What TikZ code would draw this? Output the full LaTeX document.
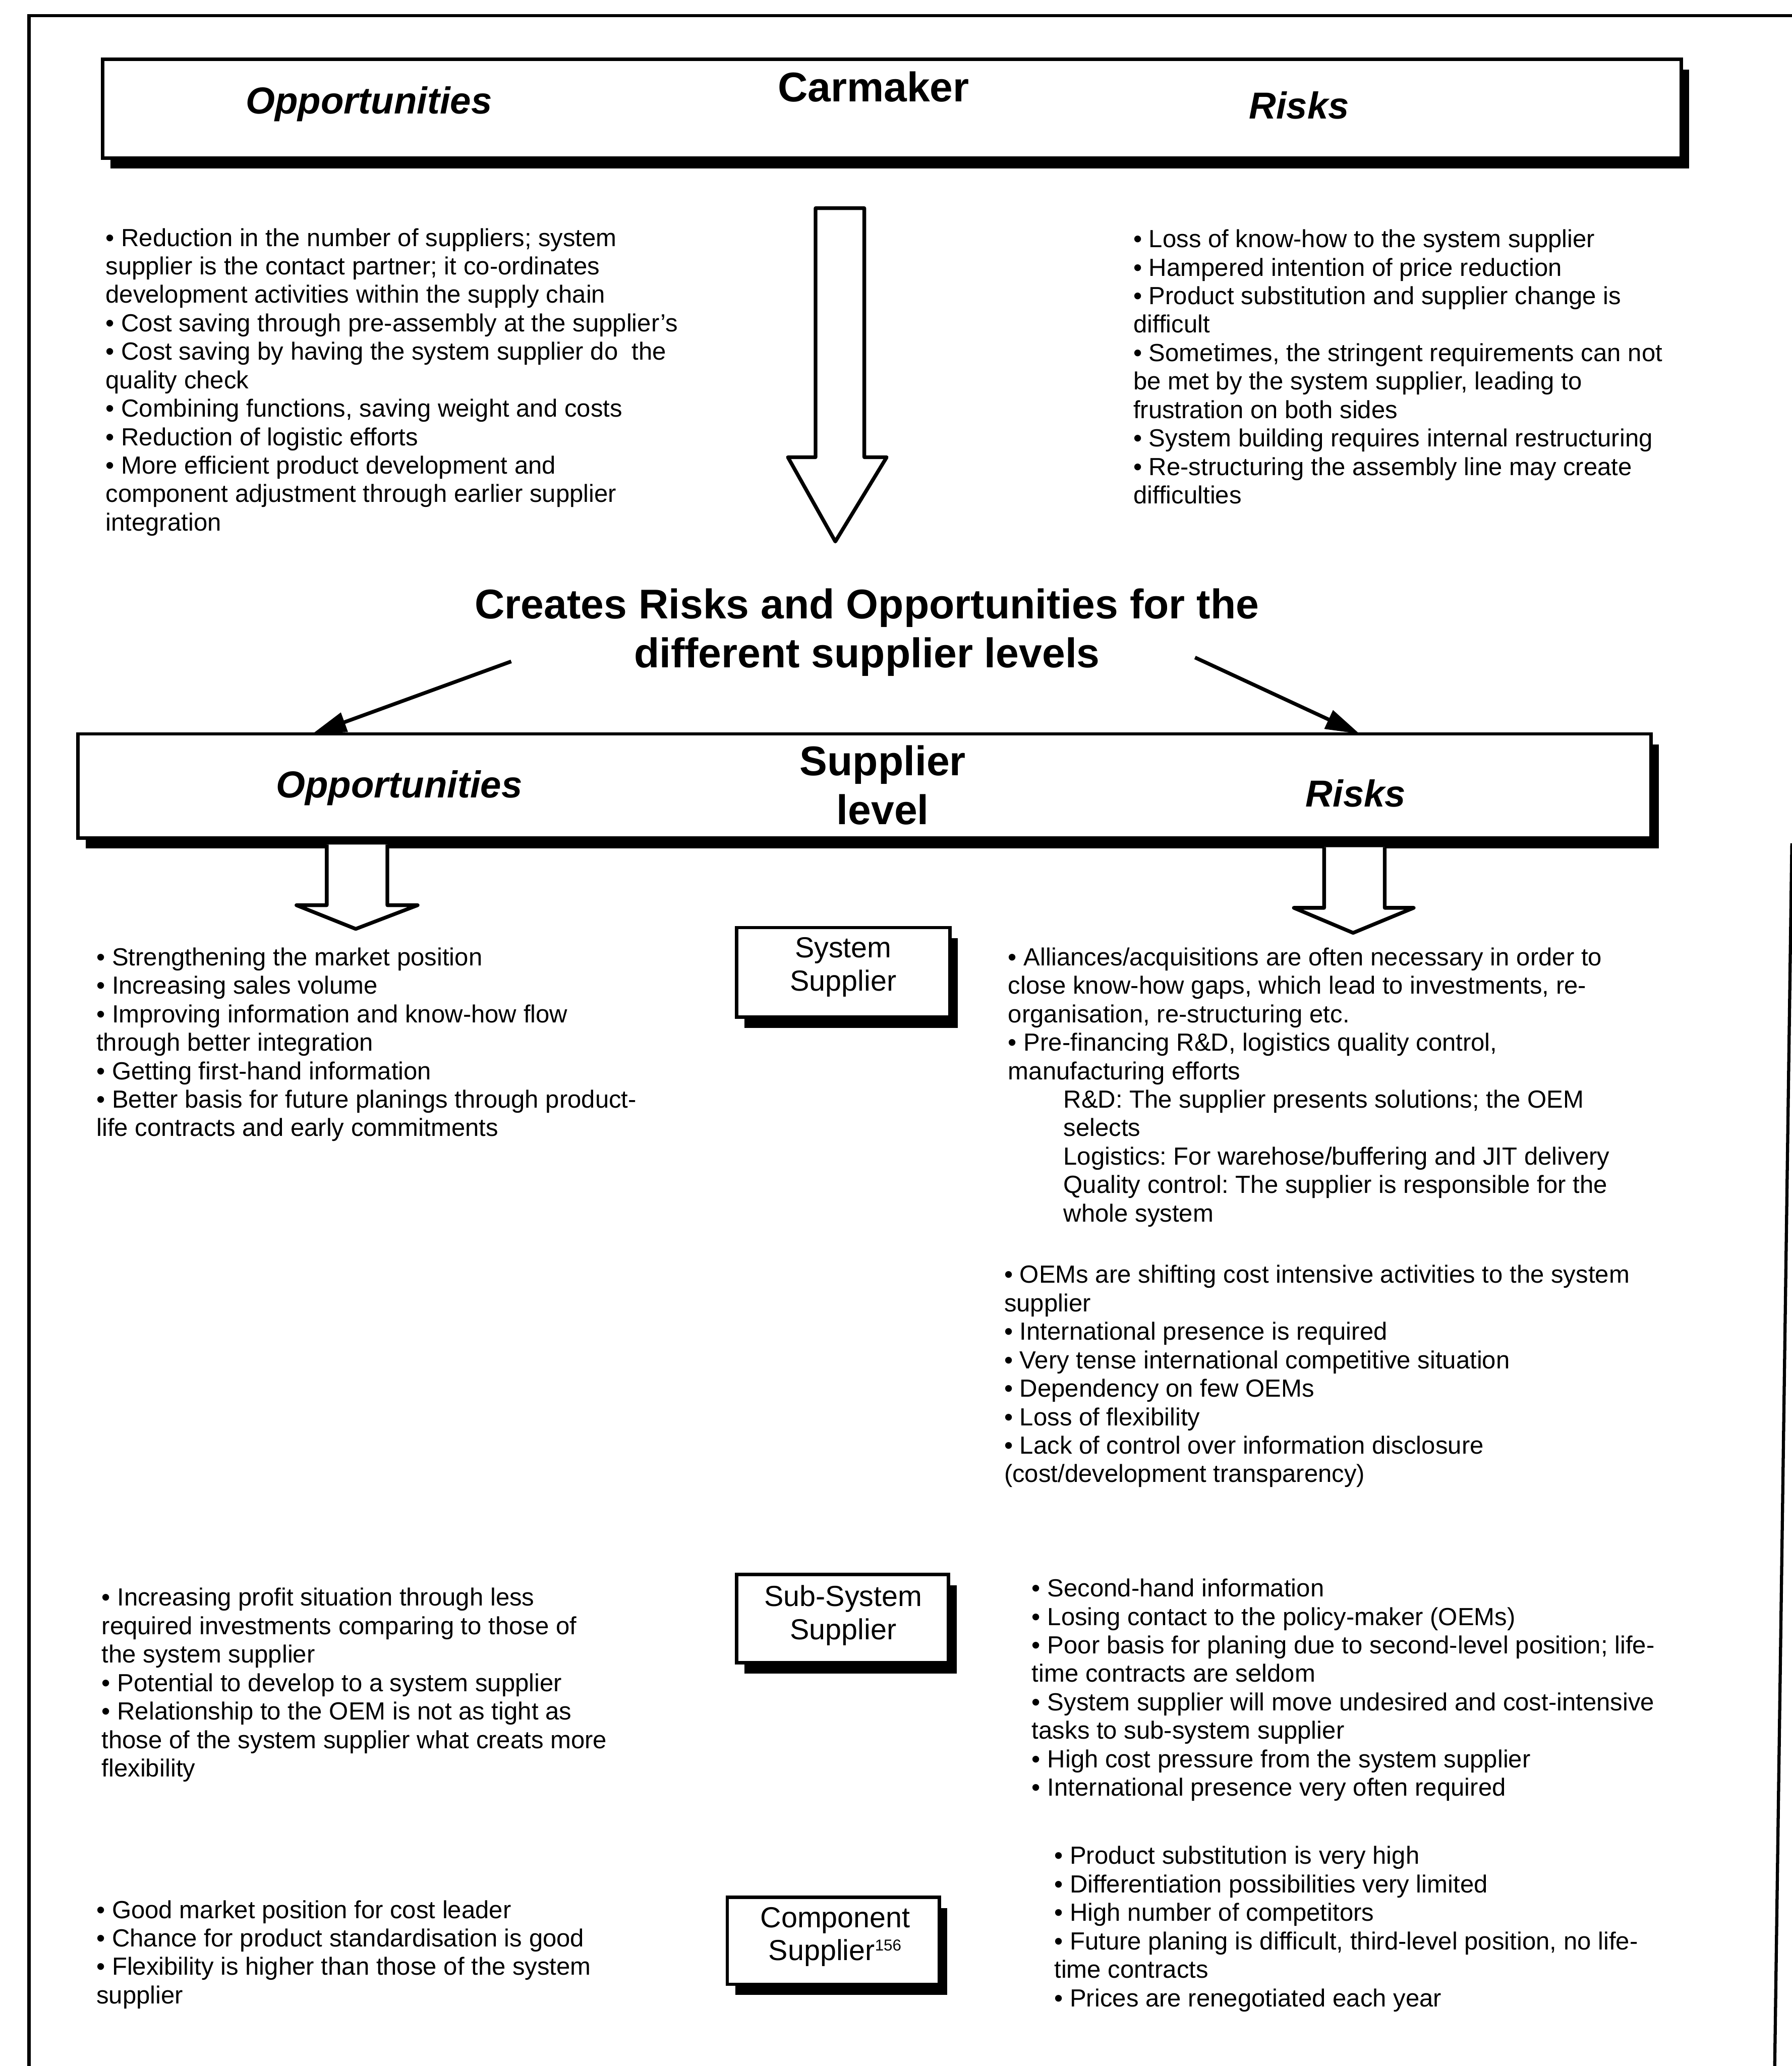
\documentclass[tikz,border=0pt]{standalone}
\usepackage{fontspec}
\setmainfont{Liberation Sans}
\usetikzlibrary{arrows.meta,calc,shadows}
\frenchspacing
\begin{document}
\begin{tikzpicture}[x=1pt,y=-1pt,
  frame/.style={line width=2.4pt},
  bigbox/.style={draw,line width=2.6pt,fill=white,inner sep=0pt,
    drop shadow={shadow xshift=6pt,shadow yshift=-8pt,opacity=1,fill=black}},
  smallbox/.style={draw,line width=2.6pt,fill=white,inner sep=0pt,
    drop shadow={shadow xshift=6pt,shadow yshift=-8pt,opacity=1,fill=black}},
  boxtitle/.style={inner sep=0pt,font=\fontsize{28.5}{32}\selectfont\bfseries\itshape},
  boxname/.style={inner sep=0pt,align=center,font=\fontsize{31.5}{37}\selectfont\bfseries},
  levelname/.style={inner sep=0pt,align=center,font=\fontsize{22}{25}\selectfont},
  body/.style={anchor=north west,inner sep=0pt,align=left,font=\fontsize{18.8}{21.6}\selectfont},
  blockarrow/.style={draw,line width=2.8pt,line join=round,fill=white},
  slant/.style={line width=2.8pt,-{Triangle[length=26pt,width=15pt]}}
]
\useasboundingbox (0,0) rectangle (1360,1568);

% page frame
\coordinate (fTL) at (22,12);
\coordinate (fTR) at (1360,12);
\coordinate (fBL) at (22,1568);
\coordinate (fRa) at (1360,640);
\coordinate (fRb) at (1347,1568);
\draw[frame] (fBL) -- (fTL) -- (fTR);
\draw[frame] (fRa) -- (fRb);

% carmaker box
\node[bigbox,minimum width=1198pt,minimum height=75pt] (car) at (677,82.5) {};
\node[boxtitle] (carOpp) at (280,79) {Opportunities};
\node[boxname] (carName) at (663,66) {Carmaker};
\node[boxtitle] (carRisk) at (986,80) {Risks};

% big block arrow
\coordinate (ba1) at (619,158);
\coordinate (ba2) at (656,158);
\coordinate (ba3) at (656,347);
\coordinate (ba4) at (673,347);
\coordinate (baTip) at (634,411);
\coordinate (ba6) at (598,347);
\coordinate (ba7) at (619,347);
\draw[blockarrow] (ba1) -- (ba2) -- (ba3) -- (ba4) -- (baTip) -- (ba6) -- (ba7) -- cycle;

% carmaker opportunities and risks
\node[body] (carOppText) at (80,173) {%
• Reduction in the number of suppliers; system\\
supplier is the contact partner; it co-ordinates\\
development activities within the supply chain\\
• Cost saving through pre-assembly at the supplier's\\
• Cost saving by having the system supplier do~ the\\
quality check\\
• Combining functions, saving weight and costs\\
• Reduction of logistic efforts\\
• More efficient product development and\\
component adjustment through earlier supplier\\
integration};
\node[body] (carRiskText) at (860,174) {%
• Loss of know-how to the system supplier\\
• Hampered intention of price reduction\\
• Product substitution and supplier change is\\
difficult\\
• Sometimes, the stringent requirements can not\\
be met by the system supplier, leading to\\
frustration on both sides\\
• System building requires internal restructuring\\
• Re-structuring the assembly line may create\\
difficulties};

% central statement
\node[boxname] (creates) at (658,480) {Creates Risks and Opportunities for the\\different supplier levels};

% supplier level box
\node[bigbox,minimum width=1194pt,minimum height=79pt] (sup) at (656,596.5) {};
\node[boxtitle] (supOpp) at (303,598) {Opportunities};
\node[boxname] (supName) at (670,596) {Supplier\\level};
\node[boxtitle] (supRisk) at (1029,602) {Risks};

% slanted arrows from the statement to the supplier box
\coordinate (slL) at (388,502);
\coordinate (slLend) at (237,557);
\coordinate (slR) at (907,499);
\coordinate (slRend) at (1032,557);
\draw[slant] (slL) -- (slLend);
\draw[slant] (slR) -- (slRend);

% small block arrows below the supplier box
\coordinate (la1) at (248,641);
\coordinate (la2) at (294,641);
\coordinate (la3) at (294,687);
\coordinate (la4) at (317,687);
\coordinate (laTip) at (270,705);
\coordinate (la6) at (225,687);
\coordinate (la7) at (248,687);
\draw[blockarrow] (la1) -- (la7) -- (la6) -- (laTip) -- (la4) -- (la3) -- (la2);
\coordinate (ra1) at (1005,643);
\coordinate (ra2) at (1051,643);
\coordinate (ra3) at (1051,689);
\coordinate (ra4) at (1073,689);
\coordinate (raTip) at (1027,708);
\coordinate (ra6) at (982,689);
\coordinate (ra7) at (1005,689);
\draw[blockarrow] (ra1) -- (ra7) -- (ra6) -- (raTip) -- (ra4) -- (ra3) -- (ra2);

% system supplier level
\node[smallbox,minimum width=162pt,minimum height=68pt] (sys) at (640,738) {};
\node[levelname] (sysName) at (640,734) {System\\Supplier};
\node[body] (sysOppText) at (73,719) {%
• Strengthening the market position\\
• Increasing sales volume\\
• Improving information and know-how flow\\
through better integration\\
• Getting first-hand information\\
• Better basis for future planings through product-\\
life contracts and early commitments};
\node[body] (sysRiskText) at (765,719) {%
• Alliances/acquisitions are often necessary in order to\\
close know-how gaps, which lead to investments, re-\\
organisation, re-structuring etc.\\
• Pre-financing R\&D, logistics quality control,\\
manufacturing efforts\\
\hspace*{42pt}R\&D: The supplier presents solutions; the OEM\\
\hspace*{42pt}selects\\
\hspace*{42pt}Logistics: For warehose/buffering and JIT delivery\\
\hspace*{42pt}Quality control: The supplier is responsible for the\\
\hspace*{42pt}whole system};
\node[body] (sysRiskText2) at (762,960) {%
• OEMs are shifting cost intensive activities to the system\\
supplier\\
• International presence is required\\
• Very tense international competitive situation\\
• Dependency on few OEMs\\
• Loss of flexibility\\
• Lack of control over information disclosure\\
(cost/development transparency)};

% sub-system supplier level
\node[smallbox,minimum width=161pt,minimum height=67pt] (sub) at (639.5,1228.5) {};
\node[levelname] (subName) at (640,1226) {Sub-System\\Supplier};
\node[body] (subOppText) at (77,1205) {%
• Increasing profit situation through less\\
required investments comparing to those of\\
the system supplier\\
• Potential to develop to a system supplier\\
• Relationship to the OEM is not as tight as\\
those of the system supplier what creats more\\
flexibility};
\node[body] (subRiskText) at (783,1198) {%
• Second-hand information\\
• Losing contact to the policy-maker (OEMs)\\
• Poor basis for planing due to second-level position; life-\\
time contracts are seldom\\
• System supplier will move undesired and cost-intensive\\
tasks to sub-system supplier\\
• High cost pressure from the system supplier\\
• International presence very often required};

% component supplier level
\node[smallbox,minimum width=161pt,minimum height=66pt] (comp) at (632.5,1473) {};
\node[levelname] (compName) at (634,1470) {Component\\Supplier\textsuperscript{\fontsize{12}{12}\selectfont 156}};
\node[body] (compOppText) at (73,1442) {%
• Good market position for cost leader\\
• Chance for product standardisation is good\\
• Flexibility is higher than those of the system\\
supplier};
\node[body] (compRiskText) at (800,1401) {%
• Product substitution is very high\\
• Differentiation possibilities very limited\\
• High number of competitors\\
• Future planing is difficult, third-level position, no life-\\
time contracts\\
• Prices are renegotiated each year};
\end{tikzpicture}
\end{document}
